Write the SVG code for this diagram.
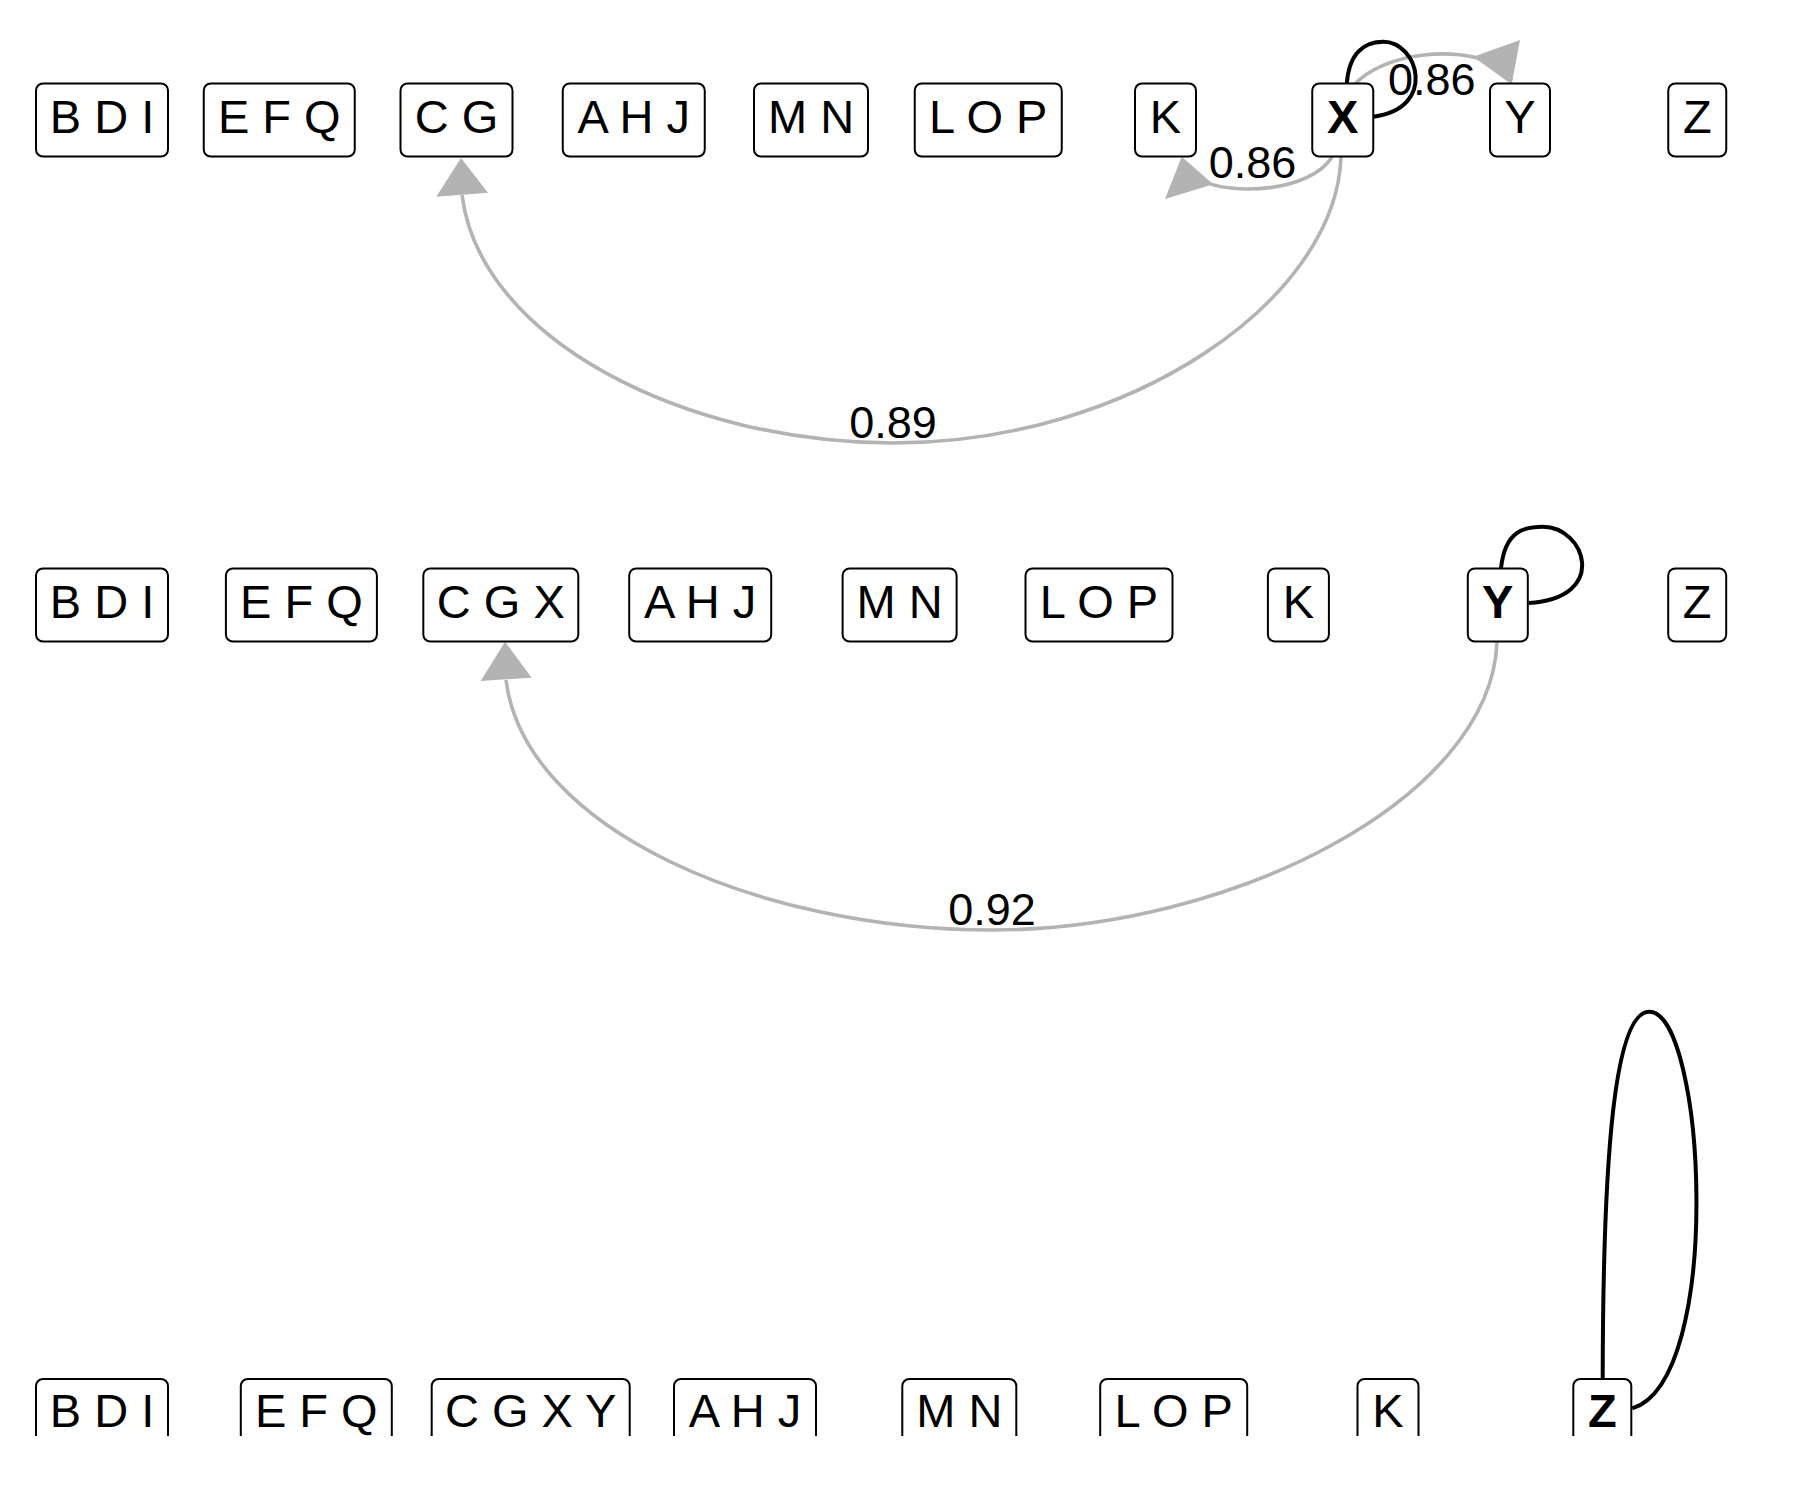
<svg xmlns="http://www.w3.org/2000/svg" width="1800" height="1500" viewBox="0 0 1800 1500">
<style>
.box{fill:#fff;stroke:#000;stroke-width:2}
.nt{font-family:"Liberation Sans",Arial,sans-serif;font-size:47px;text-anchor:middle;fill:#000}
.b{font-weight:bold}
.edge{fill:none;stroke:#B3B3B3;stroke-width:3.6}
.loop{fill:none;stroke:#000;stroke-width:4}
.arrow{fill:#B3B3B3;stroke:none}
.lbl{font-family:"Liberation Sans",Arial,sans-serif;font-size:45px;text-anchor:middle;fill:#000}
</style>
<rect width="1800" height="1500" fill="#fff"/>
<g id="connectors">
  <path class="edge" d="M1341,157 C1336,300 1130,443 893,443 C686,443 480,340 462,195"/>
  <polygon class="arrow" points="461,158 436.3,196.7 488,192.7"/>
  <path class="edge" d="M1332,157 C1310,192 1232,196 1200,180"/>
  <polygon class="arrow" points="1181.7,156.7 1165,199 1213.3,184.3"/>
  <path class="edge" d="M1353,86 C1385,50 1460,48 1488,62"/>
  <polygon class="arrow" points="1511.7,84.5 1520,40 1473.3,56.7"/>
  <path class="loop" d="M1346.7,84.3 C1349,52 1365,41.7 1383.3,41.7 C1418,41.7 1438,108 1373.3,116.7"/>
  <path class="edge" d="M1497,642 C1491,800 1230,930 992,930 C760,930 525,830 506,680"/>
  <polygon class="arrow" points="505,641.7 480.7,681 531.7,677.7"/>
  <path class="loop" d="M1501,568.5 C1505,530 1525,526.7 1543,526.7 C1585,526.7 1610,598 1528.6,603"/>
  <path class="loop" d="M1602.7,1379 C1603,1150 1615,1011.7 1649.3,1011.7 C1705,1011.7 1725,1380 1632.3,1408.3"/>
  <text class="lbl" x="893" y="438">0.89</text>
  <text class="lbl" x="1252.5" y="178.3">0.86</text>
  <text class="lbl" x="1431.7" y="95">0.86</text>
  <text class="lbl" x="992" y="925">0.92</text>
</g>
<g id="row1">
  <g id="r1-BDI"><rect class="box" x="36" y="83.5" width="132" height="73" rx="7"/><text class="nt" x="102" y="132.7">B D I</text></g>
  <g id="r1-EFQ"><rect class="box" x="203.75" y="83.5" width="151" height="73" rx="7"/><text class="nt" x="279.25" y="132.7">E F Q</text></g>
  <g id="r1-CG"><rect class="box" x="400.5" y="83.5" width="112" height="73" rx="7"/><text class="nt" x="456.5" y="132.7">C G</text></g>
  <g id="r1-AHJ"><rect class="box" x="562.75" y="83.5" width="142" height="73" rx="7"/><text class="nt" x="633.75" y="132.7">A H J</text></g>
  <g id="r1-MN"><rect class="box" x="754" y="83.5" width="114" height="73" rx="7"/><text class="nt" x="811" y="132.7">M N</text></g>
  <g id="r1-LOP"><rect class="box" x="914.75" y="83.5" width="147" height="73" rx="7"/><text class="nt" x="988.25" y="132.7">L O P</text></g>
  <g id="r1-K"><rect class="box" x="1135" y="83.5" width="61" height="73" rx="7"/><text class="nt" x="1165.5" y="132.7">K</text></g>
  <g id="r1-X"><rect class="box" x="1312.25" y="83.5" width="61" height="73" rx="7"/><text class="nt b" x="1342.75" y="132.7">X</text></g>
  <g id="r1-Y"><rect class="box" x="1490" y="83.5" width="60" height="73" rx="7"/><text class="nt" x="1520" y="132.7">Y</text></g>
  <g id="r1-Z"><rect class="box" x="1668.25" y="83.5" width="58" height="73" rx="7"/><text class="nt" x="1697.25" y="132.7">Z</text></g>
</g>
<g id="row2">
  <g id="r2-BDI"><rect class="box" x="36" y="568.5" width="132" height="73" rx="7"/><text class="nt" x="102" y="617.7">B D I</text></g>
  <g id="r2-EFQ"><rect class="box" x="225.9" y="568.5" width="151" height="73" rx="7"/><text class="nt" x="301.4" y="617.7">E F Q</text></g>
  <g id="r2-CGX"><rect class="box" x="423.3" y="568.5" width="155" height="73" rx="7"/><text class="nt" x="500.8" y="617.7">C G X</text></g>
  <g id="r2-AHJ"><rect class="box" x="629.2" y="568.5" width="142" height="73" rx="7"/><text class="nt" x="700.2" y="617.7">A H J</text></g>
  <g id="r2-MN"><rect class="box" x="842.6" y="568.5" width="114" height="73" rx="7"/><text class="nt" x="899.6" y="617.7">M N</text></g>
  <g id="r2-LOP"><rect class="box" x="1025.5" y="568.5" width="147" height="73" rx="7"/><text class="nt" x="1099" y="617.7">L O P</text></g>
  <g id="r2-K"><rect class="box" x="1267.9" y="568.5" width="61" height="73" rx="7"/><text class="nt" x="1298.4" y="617.7">K</text></g>
  <g id="r2-Y"><rect class="box" x="1467.8" y="568.5" width="60" height="73" rx="7"/><text class="nt b" x="1497.8" y="617.7">Y</text></g>
  <g id="r2-Z"><rect class="box" x="1668.2" y="568.5" width="58" height="73" rx="7"/><text class="nt" x="1697.2" y="617.7">Z</text></g>
</g>
<g id="row3">
  <g id="r3-BDI"><path class="box" d="M36,1436 V1386 A7,7 0 0 1 43,1379 H161 A7,7 0 0 1 168,1386 V1436"/><text class="nt" x="102" y="1427">B D I</text></g>
  <g id="r3-EFQ"><path class="box" d="M240.8,1436 V1386 A7,7 0 0 1 247.8,1379 H384.8 A7,7 0 0 1 391.8,1386 V1436"/><text class="nt" x="316.3" y="1427">E F Q</text></g>
  <g id="r3-CGXY"><path class="box" d="M431.7,1436 V1386 A7,7 0 0 1 438.7,1379 H622.7 A7,7 0 0 1 629.7,1386 V1436"/><text class="nt" x="530.7" y="1427">C G X Y</text></g>
  <g id="r3-AHJ"><path class="box" d="M674,1436 V1386 A7,7 0 0 1 681,1379 H809 A7,7 0 0 1 816,1386 V1436"/><text class="nt" x="745" y="1427">A H J</text></g>
  <g id="r3-MN"><path class="box" d="M902.3,1436 V1386 A7,7 0 0 1 909.3,1379 H1009.3 A7,7 0 0 1 1016.3,1386 V1436"/><text class="nt" x="959.3" y="1427">M N</text></g>
  <g id="r3-LOP"><path class="box" d="M1100.2,1436 V1386 A7,7 0 0 1 1107.2,1379 H1240.2 A7,7 0 0 1 1247.2,1386 V1436"/><text class="nt" x="1173.7" y="1427">L O P</text></g>
  <g id="r3-K"><path class="box" d="M1357.5,1436 V1386 A7,7 0 0 1 1364.5,1379 H1411.5 A7,7 0 0 1 1418.5,1386 V1436"/><text class="nt" x="1388" y="1427">K</text></g>
  <g id="r3-Z"><path class="box" d="M1573.3,1436 V1386 A7,7 0 0 1 1580.3,1379 H1624.3 A7,7 0 0 1 1631.3,1386 V1436"/><text class="nt b" x="1602.3" y="1427">Z</text></g>
</g>
</svg>
